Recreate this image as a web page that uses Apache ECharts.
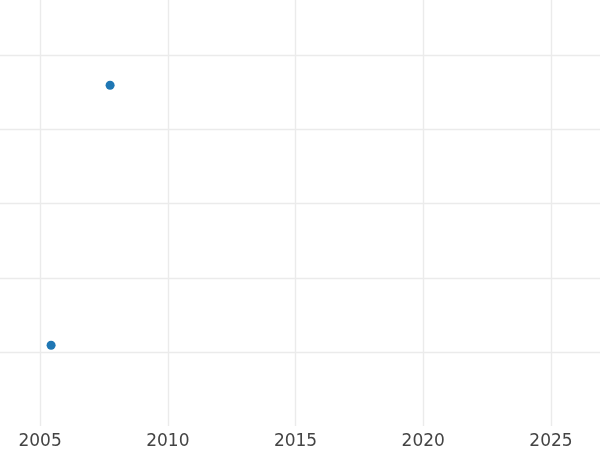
<!DOCTYPE html>
<html>
<head>
<meta charset="utf-8">
<script src="https://cdn.jsdelivr.net/npm/echarts@6/dist/echarts.min.js"></script>
<style>html,body{margin:0;padding:0;background:#fff}#c{width:600px;height:450px}</style>
</head>
<body>
<div id="c"></div>
<script>
const years = [2007.74, 2005.43];
const values = [4.60, 1.09];
const xRange = [2003.43, 2026.92];
const yRange = [0, 5.75];

const chart = echarts.init(document.getElementById('c'), null, {renderer: 'canvas'});
chart.setOption({
  animation: false,
  backgroundColor: '#fff',
  grid: {left: 0, right: 0, top: 0, bottom: 22, containLabel: false},
  xAxis: {
    type: 'value', min: xRange[0], max: xRange[1], splitNumber: 5,
    axisLine: {show: false}, axisTick: {show: false},
    axisLabel: {color: '#444', fontSize: 17, fontFamily: 'DejaVu Sans', margin: 7,
      showMinLabel: false, showMaxLabel: false, formatter: v => String(v)},
    splitLine: {show: true, showMinLine: false, showMaxLine: false, lineStyle: {color: '#ebebeb', width: 1.4}}
  },
  yAxis: {
    type: 'value', min: yRange[0], max: yRange[1], interval: 1,
    axisLine: {show: false}, axisTick: {show: false}, axisLabel: {show: false},
    splitLine: {show: true, showMinLine: false, showMaxLine: false, lineStyle: {color: '#ebebeb', width: 1.4}}
  },
  series: [{
    type: 'scatter', symbolSize: 9,
    itemStyle: {color: '#1f77b4', opacity: 1},
    data: years.map((y, i) => [y, values[i]])
  }]
});
</script>
</body>
</html>
